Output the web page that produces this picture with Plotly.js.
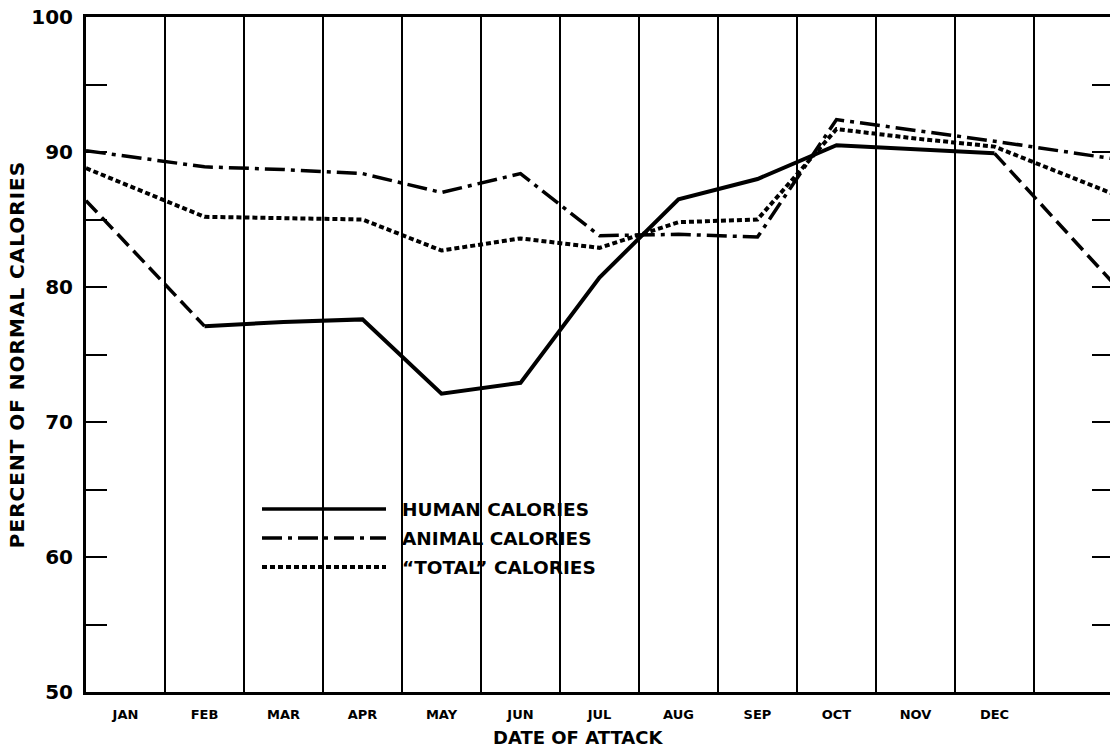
<!DOCTYPE html>
<html>
<head>
<meta charset="utf-8">
<script src="https://cdn.plot.ly/plotly-3.0.1.min.js"></script>
<style>
  html, body { margin: 0; padding: 0; background: #ffffff; overflow: hidden; }
  #chart { width: 1114px; height: 750px; }
  #chart .ytitle { letter-spacing: 1px; }
</style>
</head>
<body>
<div id="chart"></div>
<script>
// ---- data ----
const months = ['JAN','FEB','MAR','APR','MAY','JUN','JUL','AUG','SEP','OCT','NOV','DEC'];
const human  = [83.3, 77.1, 77.4, 77.6, 72.1, 72.9, 80.7, 86.5, 88.0, 90.5, 90.2, 89.9];
const animal = [89.7, 88.9, 88.7, 88.4, 87.0, 88.4, 83.8, 83.9, 83.7, 92.4, 91.6, 90.8];
const total  = [87.6, 85.2, 85.1, 85.0, 82.7, 83.6, 82.9, 84.8, 85.0, 91.7, 91.0, 90.4];
// values where the curves meet the left and right frame edges (extrapolated part)
const humanEdges  = [86.4, 80.3];
const animalEdges = [90.1, 89.5];
const totalEdges  = [88.8, 86.9];
const yTickVals = [50, 55, 60, 65, 70, 75, 80, 85, 90, 95, 100];
const yTickText = ['50', '', '60', '', '70', '', '80', '', '90', '', '100'];
const legendNames = ['HUMAN CALORIES', 'ANIMAL CALORIES', '\u201CTOTAL\u201D CALORIES'];
const xTitle = 'DATE OF ATTACK';
const yTitle = 'PERCENT OF NORMAL CALORIES';

// ---- positions ----
const idx = months.map((m, i) => i + 1);
const xStart = 0.5, xEnd = months.length + 1.5;
const FONT = 'DejaVu Sans, Arial, sans-serif';

const traces = [];
// Human: dashed start, solid body, dashed end
traces.push({
  x: [xStart, idx[0], idx[1]], y: [humanEdges[0], human[0], human[1]],
  mode: 'lines', line: {color: '#000', width: 3.5, dash: '16px,7px'}, hoverinfo: 'skip'
});
traces.push({
  x: idx.slice(1), y: human.slice(1), name: legendNames[0],
  mode: 'lines', line: {color: '#000', width: 4}
});
traces.push({
  x: [idx[11], xEnd], y: [human[11], humanEdges[1]],
  mode: 'lines', line: {color: '#000', width: 3.5, dash: '16px,7px'}, hoverinfo: 'skip'
});
// Animal: dash-dot
traces.push({
  x: [xStart].concat(idx, [xEnd]), y: [animalEdges[0]].concat(animal, [animalEdges[1]]),
  name: legendNames[1], mode: 'lines',
  line: {color: '#000', width: 3.5, dash: '20px,6px,4px,6px'}
});
// Total: dotted
traces.push({
  x: [xStart].concat(idx, [xEnd]), y: [totalEdges[0]].concat(total, [totalEdges[1]]),
  name: legendNames[2], mode: 'lines',
  line: {color: '#000', width: 4, dash: '5px,3px'}
});

// legend drawn by hand (long line samples)
const L = 86, R = 1113, T = 17, B = 692;
const px = v => (v - L) / (R - L);
const py = v => (B - v) / (B - T);
const legRows = [509, 538, 567];
const legDash = ['solid', '20px,6px,4px,6px', '5px,3px'];
const shapes = [{
  type: 'rect', xref: 'paper', yref: 'paper', layer: 'between',
  x0: px(255), x1: px(612), y0: py(585), y1: py(494),
  fillcolor: '#ffffff', line: {width: 0}
}];
const annotations = [];
legRows.forEach((r, i) => {
  shapes.push({
    type: 'line', xref: 'paper', yref: 'paper', layer: 'above',
    x0: px(262), x1: px(386), y0: py(r), y1: py(r),
    line: {color: '#000', width: i === 2 ? 4 : 3.5, dash: legDash[i]}
  });
  annotations.push({
    xref: 'paper', yref: 'paper', x: px(400), y: py(r), xanchor: 'left', yanchor: 'middle',
    text: legendNames[i], showarrow: false,
    font: {family: FONT, size: 18.5, color: '#000', weight: 'bold'}
  });
});
// x-axis title (centred on the visible sheet, not the plot box)
annotations.push({
  xref: 'paper', yref: 'paper', x: px(578), y: py(737), xanchor: 'center', yanchor: 'middle',
  text: xTitle, showarrow: false,
  font: {family: FONT, size: 18, color: '#000', weight: 'bold'}
});

const layout = {
  width: 1114, height: 750,
  margin: {l: L, r: 1114 - R, t: T, b: 750 - B},
  paper_bgcolor: '#ffffff', plot_bgcolor: '#ffffff',
  showlegend: false,
  font: {family: FONT, color: '#000'},
  xaxis: {
    range: [xStart, xEnd], tickmode: 'array', tickvals: idx, ticktext: months,
    ticks: '', showgrid: false, zeroline: false,
    showline: true, linecolor: '#000', linewidth: 3, mirror: true,
    tickfont: {family: FONT, size: 13, color: '#000', weight: 'bold'},
    ticklabelstandoff: 8,
    minor: {tickmode: 'linear', tick0: 0.5, dtick: 1, showgrid: true, gridcolor: '#000', gridwidth: 2, ticks: ''},
    fixedrange: true
  },
  yaxis: {
    range: [50, 100], tickmode: 'array', tickvals: yTickVals, ticktext: yTickText,
    ticks: 'inside', ticklen: 21, tickwidth: 2, tickcolor: '#000',
    showgrid: false, zeroline: false,
    showline: true, linecolor: '#000', linewidth: 3, mirror: 'ticks',
    tickfont: {family: FONT, size: 20, color: '#000', weight: 'bold'},
    ticklabelstandoff: 6,
    title: {text: yTitle, font: {family: FONT, size: 20, color: '#000', weight: 'bold'}, standoff: 2},
    fixedrange: true
  },
  shapes: shapes,
  annotations: annotations
};

Plotly.newPlot('chart', traces, layout, {staticPlot: true, displayModeBar: false});
</script>
</body>
</html>
